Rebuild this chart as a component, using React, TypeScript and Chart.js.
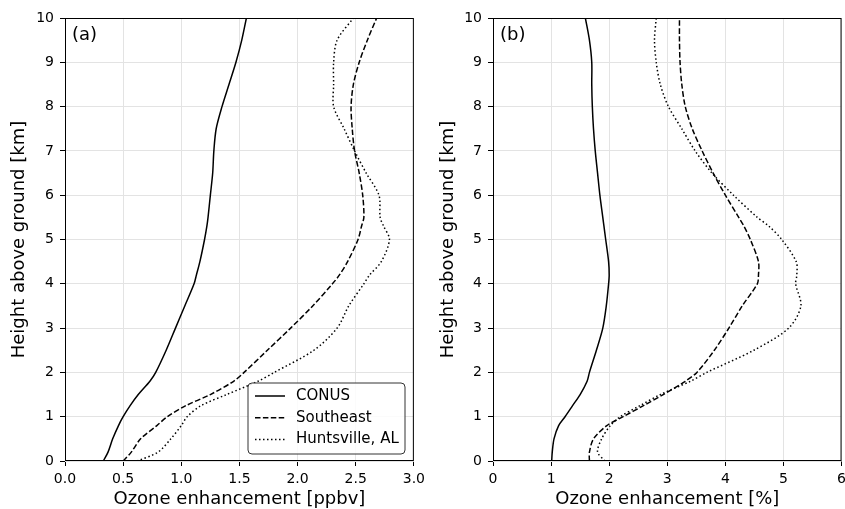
import React, { useEffect, useRef } from "react";
import { Chart, registerables } from "chart.js";
Chart.register(...registerables);

// Heights above ground [km] shared by all profiles
const heights = [0, 0.2, 0.5, 0.8, 1, 1.25, 1.5, 1.8, 2, 2.5, 3, 3.5, 4, 4.2, 4.5, 5, 5.3, 5.5, 6, 6.5, 7, 7.5, 8, 8.5, 9, 9.5, 10];

// Panel (a): ozone enhancement [ppbv]
const conusPpbv = [0.33, 0.37, 0.41, 0.46, 0.5, 0.56, 0.63, 0.73, 0.78, 0.87, 0.95, 1.03, 1.11, 1.13, 1.16, 1.2, 1.22, 1.23, 1.25, 1.27, 1.28, 1.3, 1.35, 1.41, 1.47, 1.52, 1.56];
const southeastPpbv = [0.5, 0.57, 0.65, 0.79, 0.88, 1.04, 1.25, 1.45, 1.54, 1.74, 1.94, 2.13, 2.3, 2.36, 2.43, 2.52, 2.55, 2.57, 2.56, 2.53, 2.49, 2.47, 2.46, 2.48, 2.53, 2.6, 2.68];
const huntsvillePpbv = [0.62, 0.8, 0.91, 1.0, 1.05, 1.17, 1.39, 1.66, 1.8, 2.14, 2.34, 2.44, 2.57, 2.62, 2.72, 2.79, 2.74, 2.71, 2.7, 2.59, 2.49, 2.4, 2.31, 2.31, 2.31, 2.34, 2.48];

// Panel (b): ozone enhancement [%]
const conusPct = [1.01, 1.02, 1.05, 1.13, 1.24, 1.37, 1.5, 1.62, 1.66, 1.78, 1.89, 1.95, 1.99, 2.0, 1.99, 1.94, 1.91, 1.89, 1.84, 1.8, 1.76, 1.73, 1.71, 1.7, 1.7, 1.66, 1.59];
const southeastPct = [1.66, 1.66, 1.73, 1.96, 2.24, 2.59, 2.93, 3.31, 3.51, 3.81, 4.06, 4.29, 4.55, 4.57, 4.57, 4.43, 4.32, 4.23, 4.0, 3.79, 3.6, 3.43, 3.31, 3.25, 3.22, 3.21, 3.21];
const huntsvillePct = [1.93, 1.8, 1.87, 2.02, 2.19, 2.53, 2.88, 3.4, 3.68, 4.49, 5.09, 5.3, 5.21, 5.23, 5.22, 4.97, 4.75, 4.55, 4.14, 3.77, 3.48, 3.25, 3.02, 2.88, 2.81, 2.78, 2.81];

const seriesNames = ["CONUS", "Southeast", "Huntsville, AL"];
const seriesDashes: number[][] = [[], [5.5, 2.4], [1.5, 2.5]];

const FONT = "'DejaVu Sans', sans-serif";

function pts(xs: number[]) {
  return xs.map((x, i) => ({ x, y: heights[i] }));
}

const framePlugin = {
  id: "frameAndLegend",
  afterDraw(chart: any, _args: any, opts: any) {
    const { ctx, chartArea } = chart;
    ctx.save();
    // full box (spines)
    ctx.strokeStyle = "#000";
    ctx.lineWidth = 1;
    ctx.setLineDash([]);
    ctx.strokeRect(chartArea.left + 0.5, chartArea.top + 0.5, chartArea.right - chartArea.left - 1, chartArea.bottom - chartArea.top - 1);
    // panel label
    ctx.fillStyle = "#000";
    ctx.font = `18px ${FONT}`;
    ctx.textBaseline = "middle";
    ctx.textAlign = "left";
    ctx.fillText(opts.label, chartArea.left + 7, chartArea.top + 17);
    if (opts.legend) {
      const bx = chartArea.left + 183, by = chartArea.top + 365, bw = 157, bh = 71, r = 4;
      ctx.fillStyle = "rgba(255,255,255,0.85)";
      ctx.strokeStyle = "#333";
      ctx.lineWidth = 1;
      ctx.beginPath();
      ctx.moveTo(bx + r, by);
      ctx.lineTo(bx + bw - r, by);
      ctx.arcTo(bx + bw, by, bx + bw, by + r, r);
      ctx.lineTo(bx + bw, by + bh - r);
      ctx.arcTo(bx + bw, by + bh, bx + bw - r, by + bh, r);
      ctx.lineTo(bx + r, by + bh);
      ctx.arcTo(bx, by + bh, bx, by + bh - r, r);
      ctx.lineTo(bx, by + r);
      ctx.arcTo(bx, by, bx + r, by, r);
      ctx.closePath();
      ctx.fill();
      ctx.stroke();
      ctx.font = `15px ${FONT}`;
      seriesNames.forEach((name, i) => {
        const yy = by + 13 + i * 21.7;
        ctx.strokeStyle = "#000";
        ctx.lineWidth = 1.5;
        ctx.setLineDash(seriesDashes[i]);
        ctx.beginPath();
        ctx.moveTo(bx + 7, yy);
        ctx.lineTo(bx + 37, yy);
        ctx.stroke();
        ctx.setLineDash([]);
        ctx.fillStyle = "#000";
        ctx.fillText(name, bx + 48, yy);
      });
    }
    ctx.restore();
  },
};

function makeConfig(xs: number[][], xMax: number, xStep: number, xTitle: string, label: string, legend: boolean, yWidth: number, padRight: number, fixed: boolean): any {
  return {
    type: "scatter",
    data: {
      datasets: xs.map((arr, i) => ({
        label: seriesNames[i],
        data: pts(arr),
        showLine: true,
        borderColor: "#000",
        backgroundColor: "#000",
        borderWidth: 1.5,
        borderDash: seriesDashes[i],
        pointRadius: 0,
        tension: 0.3,
        fill: false,
      })),
    },
    options: {
      responsive: false,
      animation: false,
      devicePixelRatio: 1,
      layout: { padding: { top: 18, right: padRight, left: 0, bottom: 0 } },
      plugins: {
        legend: { display: false },
        tooltip: { enabled: false },
        frameAndLegend: { label, legend },
      },
      scales: {
        x: {
          type: "linear",
          min: 0,
          max: xMax,
          ticks: {
            stepSize: xStep,
            color: "#000",
            font: { family: FONT, size: 14 },
            padding: 5,
            maxRotation: 0,
            callback: (v: number) => (fixed ? v.toFixed(1) : String(v)),
          },
          grid: { color: "#e3e3e3", lineWidth: 1, tickColor: "#000", tickLength: 5 },
          border: { display: false },
          title: { display: true, text: xTitle, color: "#000", font: { family: FONT, size: 18, lineHeight: 1.1 }, padding: { top: 2, bottom: 0 } },
          afterFit: (s: any) => { s.height = 48; },
        },
        y: {
          type: "linear",
          min: 0,
          max: 10,
          ticks: {
            stepSize: 1,
            color: "#000",
            font: { family: FONT, size: 14 },
            padding: 6,
          },
          grid: { color: "#e3e3e3", lineWidth: 1, tickColor: "#000", tickLength: 5 },
          border: { display: false },
          title: { display: true, text: "Height above ground [km]", color: "#000", font: { family: FONT, size: 18 }, padding: { top: 9, bottom: 0 } },
          afterFit: (s: any) => { s.width = yWidth; },
        },
      },
    },
    plugins: [framePlugin],
  };
}

function Panel(props: { cfg: any; left: number; width: number }) {
  const ref = useRef<HTMLCanvasElement | null>(null);
  useEffect(() => {
    if (!ref.current) return;
    const chart = new Chart(ref.current, props.cfg);
    return () => chart.destroy();
  }, []);
  return (
    <canvas
      ref={ref}
      width={props.width}
      height={509}
      style={{ position: "absolute", left: props.left, top: 0, width: props.width, height: 509 }}
    />
  );
}

export default function App() {
  const cfgA = makeConfig([conusPpbv, southeastPpbv, huntsvillePpbv], 3, 0.5, "Ozone enhancement [ppbv]", "(a)", true, 65, 12, true);
  const cfgB = makeConfig([conusPct, southeastPct, huntsvillePct], 6, 1, "Ozone enhancement [%]", "(b)", false, 64, 4, false);
  return (
    <div style={{ position: "fixed", left: 0, top: 0, width: 845, height: 509, background: "#fff", overflow: "hidden" }}>
      <Panel cfg={cfgA} left={0} width={430} />
      <Panel cfg={cfgB} left={429} width={422} />
    </div>
  );
}
